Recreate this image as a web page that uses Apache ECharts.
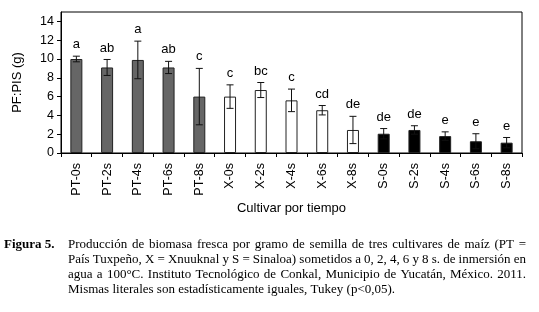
<!DOCTYPE html>
<html><head><meta charset="utf-8">
<script src="https://cdn.jsdelivr.net/npm/echarts@6/dist/echarts.min.js"></script>
<style>html,body{margin:0;padding:0;background:#fff}#c{width:539px;height:312px}</style>
</head><body><div id="c"></div>
<script>
var categories = ['PT-0s','PT-2s','PT-4s','PT-6s','PT-8s','X-0s','X-2s','X-4s','X-6s','X-8s','S-0s','S-2s','S-4s','S-6s','S-8s'];
var means = [10.0, 9.1, 9.9, 9.1, 6.0, 6.0, 6.7, 5.6, 4.55, 2.45, 2.05, 2.45, 1.8, 1.25, 1.1];
var errors = [0.3, 0.85, 2.0, 0.65, 3.0, 1.25, 0.8, 1.2, 0.5, 1.45, 0.55, 0.45, 0.45, 0.8, 0.55];
var letters = ['a','ab','a','ab','c','c','bc','c','cd','de','de','de','e','e','e'];
var groups = ['PT','PT','PT','PT','PT','X','X','X','X','X','S','S','S','S','S'];
var yTicks = [0, 2, 4, 6, 8, 10, 12, 14];
var yTitle = 'PF:PIS (g)';
var xTitle = 'Cultivar por tiempo';
var captionLabel = 'Figura 5.';
var captionLines = [
  'Producción de biomasa fresca por gramo de semilla de tres cultivares de maíz (PT =',
  'País Tuxpeño, X = Xnuuknal y S = Sinaloa) sometidos a 0, 2, 4, 6 y 8 s. de inmersión en',
  'agua a 100°C.  Instituto Tecnológico de Conkal, Municipio de Yucatán, México. 2011.',
  'Mismas literales son estadísticamente iguales, Tukey (p<0,05).'
];

var groupColor = {PT: '#666666', X: '#ffffff', S: '#000000'};
var font = 'Liberation Sans, Arial, sans-serif';
var serif = 'Liberation Serif, Times New Roman, serif';

var barData = means.map(function (v, i) {
  return {value: v, itemStyle: {color: groupColor[groups[i]], borderColor: '#222', borderWidth: 1}};
});
var errData = means.map(function (v, i) { return [i, v, errors[i], letters[i]]; });

// caption (justified like the printed figure)
var capFont = '13px ' + serif;
var cx0 = 68, cx1 = 526, cy0 = 238.5, lh = 15;
var mctx = document.createElement('canvas').getContext('2d');
mctx.font = capFont;
var graphics = [
  {type: 'text', left: 4, top: cy0, style: {text: captionLabel, font: 'bold 13px ' + serif, fill: '#000'}}
];
captionLines.forEach(function (t, li) {
  var y = cy0 + li * lh;
  if (li === captionLines.length - 1) {
    graphics.push({type: 'text', x: cx0, y: y, style: {text: t, font: capFont, fill: '#000'}});
    return;
  }
  var words = t.split(/\s+/);
  var total = 0;
  words.forEach(function (w) { total += mctx.measureText(w).width; });
  var gap = (cx1 - cx0 - total) / (words.length - 1);
  var x = cx0;
  words.forEach(function (w) {
    graphics.push({type: 'text', x: x, y: y, style: {text: w, font: capFont, fill: '#000'}});
    x += mctx.measureText(w).width + gap;
  });
});

var chart = echarts.init(document.getElementById('c'));
chart.setOption({
  animation: false,
  grid: {left: 61, right: 17, top: 12, bottom: 159, show: true, borderColor: '#000', borderWidth: 1, backgroundColor: 'transparent'},
  xAxis: {
    type: 'category', data: categories,
    name: xTitle, nameLocation: 'middle', nameGap: 49,
    nameTextStyle: {fontFamily: font, fontSize: 13, color: '#000'},
    axisLine: {lineStyle: {color: '#000'}},
    axisTick: {show: true, length: 4, lineStyle: {color: '#000'}},
    axisLabel: {rotate: 90, fontFamily: font, fontSize: 12.5, color: '#000', margin: 10, interval: 0}
  },
  yAxis: {
    type: 'value', min: 0, max: 15,
    name: yTitle, nameLocation: 'middle', nameGap: 37, nameRotate: 90,
    nameTextStyle: {fontFamily: font, fontSize: 13, color: '#000'},
    splitLine: {show: false},
    axisLine: {show: true, lineStyle: {color: '#000'}},
    axisTick: {show: true, length: 4, lineStyle: {color: '#000'}, customValues: yTicks},
    axisLabel: {fontFamily: font, fontSize: 12.5, color: '#000', margin: 7, customValues: yTicks}
  },
  series: [
    {type: 'bar', data: barData, barWidth: 12},
    {
      type: 'custom', data: errData, z: 10,
      renderItem: function (params, api) {
        var i = api.value(0), m = api.value(1), e = api.value(2);
        var top = api.coord([i, m + e]);
        var bot = api.coord([i, m - e]);
        var hw = 3.5;
        var s = {stroke: '#111', lineWidth: 1};
        return {type: 'group', children: [
          {type: 'line', shape: {x1: top[0], y1: top[1], x2: bot[0], y2: bot[1]}, style: s},
          {type: 'line', shape: {x1: top[0] - hw, y1: top[1], x2: top[0] + hw, y2: top[1]}, style: s},
          {type: 'line', shape: {x1: bot[0] - hw, y1: bot[1], x2: bot[0] + hw, y2: bot[1]}, style: s},
          {type: 'text', x: top[0], y: top[1] - 5, style: {text: letters[params.dataIndex], font: '13px ' + font, fill: '#000', align: 'center', verticalAlign: 'bottom'}}
        ]};
      }
    }
  ],
  graphic: graphics
});
</script>
</body></html>
